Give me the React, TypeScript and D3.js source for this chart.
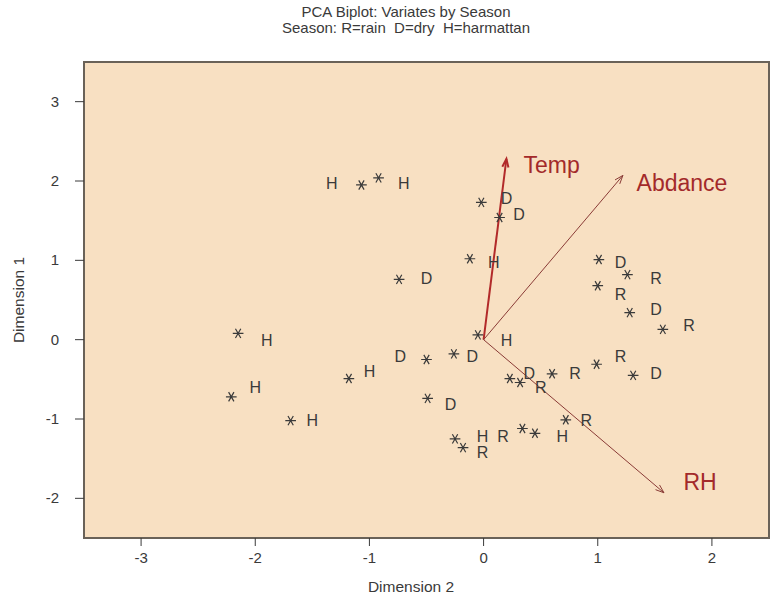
import React from 'react';
import * as d3 from 'd3';

// observation points (asterisks), in PCA units
const starX = [-1.07, -0.92, -0.02, 0.14, -0.12, -0.74, 1.01, 1.26, 1.0, 1.28, 1.57, 0.99, 1.31, 0.6, 0.23, 0.32, 0.72, 0.34, 0.45, -0.25, -0.18, -0.49, -0.5, -0.26, -0.05, -1.18, -2.15, -2.21, -1.69];
const starY = [1.95, 2.04, 1.73, 1.54, 1.02, 0.76, 1.01, 0.82, 0.68, 0.34, 0.13, -0.31, -0.45, -0.43, -0.49, -0.54, -1.01, -1.12, -1.18, -1.25, -1.36, -0.74, -0.25, -0.18, 0.06, -0.49, 0.08, -0.72, -1.02];

// season labels
const labelText = ['H', 'H', 'D', 'D', 'H', 'D', 'D', 'R', 'R', 'D', 'R', 'R', 'R', 'D', 'D', 'R', 'R', 'H', 'R', 'H', 'R', 'D', 'D', 'D', 'H', 'H', 'H', 'H', 'H'];
const labelX = [-1.33, -0.7, 0.2, 0.31, 0.09, -0.5, 1.2, 1.51, 1.2, 1.51, 1.8, 1.2, 0.8, 1.51, 0.4, 0.5, 0.9, 0.69, 0.17, -0.01, -0.01, -0.29, -0.73, -0.1, 0.2, -1.0, -1.9, -2.0, -1.5];
const labelY = [1.98, 1.98, 1.79, 1.59, 0.98, 0.78, 0.98, 0.78, 0.58, 0.39, 0.19, -0.2, -0.42, -0.42, -0.42, -0.6, -1.01, -1.22, -1.22, -1.22, -1.42, -0.81, -0.21, -0.21, -0.01, -0.4, -0.01, -0.6, -1.01];

// variable loadings (arrows)
const arrowNames = ['Temp', 'Abdance', 'RH'];
const arrowX = [0.2, 1.22, 1.58];
const arrowY = [2.28, 2.07, -1.93];

const xTicks = [-3, -2, -1, 0, 1, 2];
const yTicks = [-2, -1, 0, 1, 2, 3];

const W = 772;
const H = 599;
const box = { left: 84, right: 769, top: 62, bottom: 538 };

export default function App() {
  const x = d3.scaleLinear().domain([-3.5, 2.5]).range([box.left, box.right]);
  const y = d3.scaleLinear().domain([-2.5, 3.5]).range([box.bottom, box.top]);
  const star = d3.symbol(d3.symbolAsterisk, 80)();
  const font = 'Liberation Sans, Arial, sans-serif';
  const ink = '#3a3a3a';
  const red = '#a32a2a';

  return (
    <svg width={W} height={H} style={{ position: 'absolute', left: 0, top: 0 }} fontFamily={font}>
      <rect width={W} height={H} fill="#fff" />
      <text x={406} y={17} textAnchor="middle" fontSize={15} fill={ink}>PCA Biplot: Variates by Season</text>
      <text x={406} y={33} textAnchor="middle" fontSize={15} fill={ink} style={{ whiteSpace: 'pre' }}>{'Season: R=rain  D=dry  H=harmattan'}</text>

      <rect x={box.left} y={box.top} width={box.right - box.left} height={box.bottom - box.top}
        fill="#f8e0c2" stroke="#6a6258" strokeWidth={2} />

      {xTicks.map((t) => (
        <g key={'x' + t}>
          <line x1={x(t)} x2={x(t)} y1={box.bottom} y2={box.bottom + 8} stroke={ink} />
          <text x={x(t)} y={563} textAnchor="middle" fontSize={15} fill={ink}>{t}</text>
        </g>
      ))}
      {yTicks.map((t) => (
        <g key={'y' + t}>
          <line x1={box.left - 9} x2={box.left} y1={y(t)} y2={y(t)} stroke={ink} />
          <text x={59} y={y(t) + 5} textAnchor="end" fontSize={15} fill={ink}>{t}</text>
        </g>
      ))}
      <text x={411} y={592} textAnchor="middle" fontSize={15.5} fill={ink}>Dimension 2</text>
      <text transform="translate(24,300) rotate(-90)" textAnchor="middle" fontSize={15.5} fill={ink}>Dimension 1</text>

      {arrowNames.map((n, i) => {
        const x0 = x(0), y0 = y(0), x1 = x(arrowX[i]), y1 = y(arrowY[i]);
        const ang = Math.atan2(y1 - y0, x1 - x0);
        const hl = 9, ha = 0.35;
        const head = `M${x1 - hl * Math.cos(ang - ha)},${y1 - hl * Math.sin(ang - ha)}L${x1},${y1}L${x1 - hl * Math.cos(ang + ha)},${y1 - hl * Math.sin(ang + ha)}`;
        const first = i === 0;
        const col = first ? '#b22a2a' : '#8a3b36';
        return (
          <g key={n}>
            <line x1={x0} y1={y0} x2={x1} y2={y1} stroke={col} strokeWidth={first ? 2 : 1} />
            <path d={head} fill="none" stroke={col} strokeWidth={first ? 2 : 1} />
          </g>
        );
      })}
      <text x={x(0.35)} y={y(2.1)} fontSize={23} fill={red}>Temp</text>
      <text x={x(1.34)} y={y(1.88)} fontSize={23} fill={red}>Abdance</text>
      <text x={x(1.75)} y={y(-1.9)} fontSize={23} fill={red}>RH</text>

      {starX.map((sx, i) => (
        <path key={'s' + i} d={star} transform={`translate(${x(sx)},${y(starY[i])}) rotate(90)`} stroke={ink} strokeWidth={1.2} fill="none" />
      ))}
      {labelText.map((l, i) => (
        <text key={'l' + i} x={x(labelX[i])} y={y(labelY[i]) + 6} textAnchor="middle" fontSize={16} fill={ink}>{l}</text>
      ))}
    </svg>
  );
}
